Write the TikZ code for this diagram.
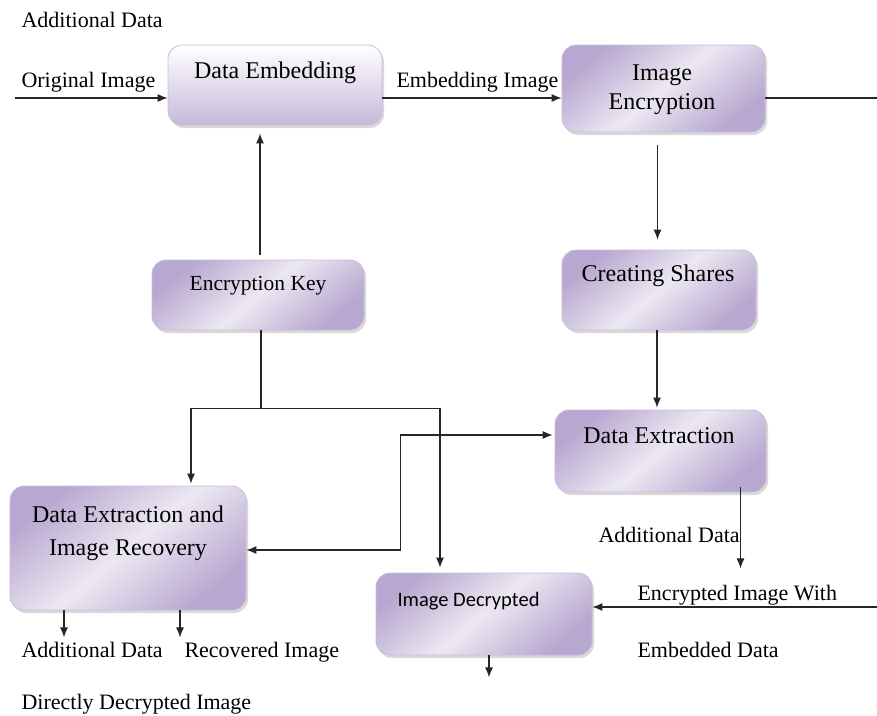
\documentclass[tikz,border=0pt]{standalone}
\usepackage{fontspec}
\setmainfont{Liberation Serif}
\newfontfamily\calibfont{Carlito}
\usetikzlibrary{arrows.meta,shadows,positioning}

\definecolor{lavdark}{RGB}{184,167,208}
\definecolor{lavlight}{RGB}{236,232,242}
\definecolor{lavedge}{RGB}{200,188,218}

\begin{document}
\begin{tikzpicture}[x=1pt,y=-1pt,
    box/.style={draw=lavedge, line width=0.8pt, rounded corners=14pt,
        left color=lavdark, right color=lavdark, middle color=lavlight, shading angle=40,
        drop shadow={shadow xshift=2pt, shadow yshift=-3pt, opacity=0.3}},
    flatbox/.style={box, top color=white, bottom color=lavdark!80},
    boxtext/.style={anchor=base, font=\fontsize{24}{28}\selectfont},
    lbl/.style={anchor=base west, font=\fontsize{22}{26}\selectfont},
    wire/.style={line width=1.1pt, black!85},
    arr/.style={wire, -{Latex[length=10pt,width=8pt]}},
    arrboth/.style={wire, {Latex[length=10pt,width=8pt]}-{Latex[length=10pt,width=8pt]}}
]
    \useasboundingbox (0,0) rectangle (877,715);

    % Boxes
    \node[flatbox, minimum width=214pt, minimum height=80pt] (embed) at (275,85) {};
    \foreach \name/\cx/\cy/\w/\h in {encr/663.5/88.5/203/87, key/258/295/212/70,
        shares/659/290/194/80, extr/660.5/451/211/82, recov/128/548/236/124,
        decr/484/614/216/82}{
        \node[box, minimum width=\w pt, minimum height=\h pt] (\name) at (\cx,\cy) {};
    }

    % Box texts
    \node[boxtext] (embed-t) at (275,78) {Data Embedding};
    \node[boxtext] (encr-t1) at (662,80) {Image};
    \node[boxtext] (encr-t2) at (662,109) {Encryption};
    \node[boxtext, font=\fontsize{21.5}{26}\selectfont] (key-t) at (258,290) {Encryption Key};
    \node[boxtext] (shares-t) at (658,281) {Creating Shares};
    \node[boxtext] (extr-t) at (659,443) {Data Extraction};
    \node[boxtext] (recov-t1) at (128,522) {Data Extraction and};
    \node[boxtext] (recov-t2) at (128,555) {Image Recovery};
    \node[anchor=base west, font=\calibfont\fontsize{20.5}{24}\selectfont] (decr-t) at (394,606) {Image Decrypted};

    % Labels
    \node[lbl] (lbl-add) at (18,27) {Additional Data};
    \node[lbl] (lbl-orig) at (18,87) {Original Image};
    \node[lbl] (lbl-emb) at (393,87) {Embedding Image};
    \node[lbl] (lbl-add2) at (595,542) {Additional Data};
    \node[lbl] (lbl-enc1) at (634,600) {Encrypted Image With};
    \node[lbl] (lbl-enc2) at (634,657) {Embedded Data};
    \node[lbl] (lbl-add3) at (18,657) {Additional Data};
    \node[lbl] (lbl-rec) at (181,657) {Recovered Image};
    \node[lbl] (lbl-dir) at (18,709) {Directly Decrypted Image};

    % Free ends
    \coordinate (in-orig) at (15,98);
    \coordinate (out-right) at (877,98);
    \coordinate (in-enc) at (877,607);

    % Connectors
    \draw[arr] (in-orig) -- (embed.west |- in-orig);
    \draw[arr] (embed.east |- in-orig) -- (encr.west |- in-orig);
    \draw[wire] (encr.east |- out-right) -- (out-right);
    \draw[arr, shorten <=13pt, shorten >=10pt] ([xshift=-6pt]encr.south) -- ([xshift=-6pt]encr.south |- shares.north);
    \draw[arr, shorten >=2pt] ([xshift=-2pt]shares.south) -- ([xshift=-2pt]shares.south |- extr.north);
    \draw[arr, shorten <=5pt, shorten >=8pt] ([xshift=2pt]key.north) -- ([xshift=2pt]key.north |- embed.south);
    \draw[wire] ([xshift=3pt]key.south) -- ++(0,78) coordinate (split);
    \draw[arr, shorten >=2pt] (split) -| ([xshift=63pt]recov.north);
    \draw[arr, shorten >=5pt] (split) -| ([xshift=-44pt]decr.north);
    \draw[arrboth, shorten >=2pt] ([yshift=-2pt]recov.east) -- ++(154,0) |- ([yshift=16pt]extr.west);
    \draw[arr] ([xshift=80pt, yshift=5pt]extr.south) -- ++(0,81) coordinate (out-add);
    \draw[arr] (in-enc) -- (decr.east |- in-enc);
    \draw[arr] ([xshift=5pt]decr.south) -- ++(0,22) coordinate (out-dec);
    \draw[arr] ([xshift=-64pt]recov.south) -- ++(0,27) coordinate (out-add3);
    \draw[arr] ([xshift=52pt]recov.south) -- ++(0,27) coordinate (out-rec);

\end{tikzpicture}
\end{document}
